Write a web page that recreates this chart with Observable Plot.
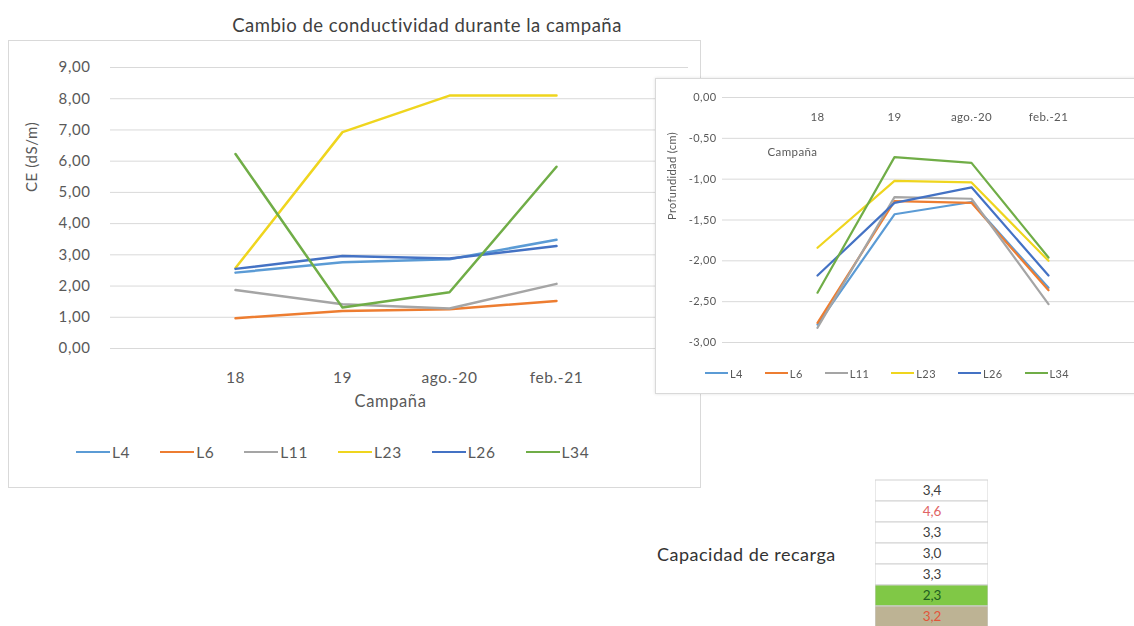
<!DOCTYPE html>
<html>
<head>
<meta charset="utf-8">
<script src="https://cdn.jsdelivr.net/npm/d3@7"></script>
<script src="https://cdn.jsdelivr.net/npm/@observablehq/plot@0.6"></script>
<style>
  body { margin: 0; width: 1134px; height: 626px; overflow: hidden; background: #fff; position: relative;
         font-family: Lato, "Open Sans", sans-serif; color: #595959; }
  .abs { position: absolute; }
  #title { left: 127px; width: 600px; top: 14px; text-align: center; font-size: 18.5px; letter-spacing: 0.5px; color: #404040; }
  #frameCE { left: 8px; top: 40px; width: 693px; height: 448px; box-sizing: border-box; border: 1px solid #d9d9d9; }
  #chartCE { left: 8px; top: 40px; }
  #chartCE svg text { letter-spacing: 0.6px; }
  #frameProf { left: 655px; top: 78px; width: 500px; height: 316px; box-sizing: border-box; background: #fff;
               border: 1px solid #d9d9d9; box-shadow: 0 0 3px rgba(0,0,0,0.12); }
  #chartProf { left: 655px; top: 78px; filter: blur(0.6px); }
  #chartProf svg text { letter-spacing: 0.4px; }
  .legend { display: flex; align-items: center; white-space: nowrap; }
  .legend .item { display: flex; align-items: center; }
  .legend .sw { display: inline-block; }
  #legendCE { left: 76px; top: 442px; height: 20px; font-size: 15.5px; letter-spacing: 0.6px; gap: 30px; }
  #legendCE .sw { width: 34px; height: 2.5px; margin-right: 2px; }
  #legendProf { left: 705px; top: 365px; height: 16px; font-size: 11px; letter-spacing: 0.4px; gap: 22px; filter: blur(0.6px); }
  #legendProf .sw { width: 23px; height: 1.8px; margin-right: 2px; }
  #recargaLabel { left: 657px; top: 543px; font-size: 18px; letter-spacing: 0.5px; color: #333; }
  #tabla { left: 875px; top: 477px; }
</style>
</head>
<body>
<div id="title" class="abs">Cambio de conductividad durante la campaña</div>
<div id="frameCE" class="abs"></div>
<div id="chartCE" class="abs"></div>
<div id="legendCE" class="abs legend"></div>
<div id="frameProf" class="abs"></div>
<div id="chartProf" class="abs"></div>
<div id="legendProf" class="abs legend"></div>
<div id="recargaLabel" class="abs">Capacidad de recarga</div>
<div id="tabla" class="abs"></div>
<script>
// Campaigns (x categories) and wells (series)
const campaigns = ["18", "19", "ago.-20", "feb.-21"];
const wells = ["L4", "L6", "L11", "L23", "L26", "L34"];

// Electrical conductivity CE (dS/m) per well and campaign
const ceL4  = [2.43, 2.76, 2.86, 3.48];
const ceL6  = [0.97, 1.20, 1.26, 1.52];
const ceL11 = [1.87, 1.42, 1.28, 2.07];
const ceL23 = [2.58, 6.93, 8.10, 8.10];
const ceL26 = [2.55, 2.96, 2.88, 3.28];
const ceL34 = [6.23, 1.31, 1.80, 5.82];

// Water table depth (cm) per well and campaign
const profL4  = [-2.78, -1.43, -1.28, -2.33];
const profL6  = [-2.76, -1.27, -1.29, -2.36];
const profL11 = [-2.82, -1.22, -1.24, -2.53];
const profL23 = [-1.84, -1.02, -1.04, -2.00];
const profL26 = [-2.18, -1.29, -1.10, -2.18];
const profL34 = [-2.39, -0.73, -0.80, -1.96];

// Recharge capacity values
const recarga = [3.4, 4.6, 3.3, 3.0, 3.3, 2.3, 3.2];

// Axis ticks
const ceTicks = [0, 1, 2, 3, 4, 5, 6, 7, 8, 9];
const profTicks = [0, -0.5, -1, -1.5, -2, -2.5, -3];

// Styling
const wellColors = ["#5B9BD5", "#ED7D31", "#A5A5A5", "#EFD51E", "#4472C4", "#70AD47"];
const rowFills = ["#fff", "#fff", "#fff", "#fff", "#fff", "#80C846", "#BDB394"];
const rowInk = ["#404040", "#E06464", "#404040", "#404040", "#404040", "#1F5E1F", "#E2553A"];
const font = "Lato, 'Open Sans', sans-serif";

const fmt2 = d => d.toFixed(2).replace(".", ",");
const fmt1 = d => d.toFixed(1).replace(".", ",");

function toRows(seriesList) {
  const rows = [];
  wells.forEach((w, k) => seriesList[k].forEach((v, i) => rows.push({well: w, campaign: campaigns[i], value: v})));
  return rows;
}
const ceRows = toRows([ceL4, ceL6, ceL11, ceL23, ceL26, ceL34]);
const profRows = toRows([profL4, profL6, profL11, profL23, profL26, profL34]);

// Conductivity chart
const ce = Plot.plot({
  width: 692, height: 390,
  marginTop: 27, marginBottom: 82, marginLeft: 102, marginRight: 12,
  style: {fontFamily: font, fontSize: "15px", color: "#595959", background: "transparent", overflow: "visible"},
  x: {type: "point", domain: campaigns, range: [172, 603]},
  y: {domain: [0, 9]},
  color: {domain: wells, range: wellColors},
  marks: [
    Plot.gridY(ceTicks, {stroke: "#d9d9d9", strokeOpacity: 1}),
    Plot.axisY(ceTicks, {tickSize: 0, tickPadding: 20, tickFormat: fmt2, label: null, fontSize: 15}),
    Plot.axisX({tickSize: 0, tickPadding: 23, label: null, fontSize: 15.5}),
    Plot.lineY(ceRows, {x: "campaign", y: "value", z: "well", stroke: "well", strokeWidth: 2.5}),
    Plot.text(["Campaña"], {text: d => d, frameAnchor: "bottom", dy: 58, dx: -9, fontSize: 16.5, fill: "#595959"}),
    Plot.text(["CE (dS/m)"], {text: d => d, frameAnchor: "left", dx: -78, dy: -16, rotate: -90, fontSize: 15, fill: "#595959"})
  ]
});
document.getElementById("chartCE").append(ce);

// Depth chart
const prof = Plot.plot({
  width: 479, height: 317,
  marginTop: 19, marginBottom: 53, marginLeft: 67, marginRight: 0,
  style: {fontFamily: font, fontSize: "11px", color: "#595959", background: "transparent", overflow: "visible"},
  x: {type: "point", domain: campaigns, range: [123, 432], axis: null},
  y: {domain: [-3, 0]},
  color: {domain: wells, range: wellColors},
  marks: [
    Plot.gridY(profTicks, {stroke: "#d9d9d9", strokeOpacity: 1}),
    Plot.axisY(profTicks, {tickSize: 0, tickPadding: 6, tickFormat: fmt2, label: null, fontSize: 11}),
    // category labels sit beside the axis line at zero
    Plot.text(campaigns, {x: d => d, y: () => 0, text: d => d, dy: 20, fontSize: 11.5, fill: "#595959"}),
    Plot.lineY(profRows, {x: "campaign", y: "value", z: "well", stroke: "well", strokeWidth: 2.2}),
    Plot.text(["Campaña"], {text: d => d, frameAnchor: "top-left", dx: 45, dy: 50, textAnchor: "start", fontSize: 11.5, fill: "#595959"}),
    Plot.text(["Profundidad (cm)"], {text: d => d, frameAnchor: "left", dx: -50, rotate: -90, fontSize: 11, fill: "#595959"})
  ]
});
document.getElementById("chartProf").append(prof);

// Legends
function legend(id) {
  const el = document.getElementById(id);
  wells.forEach((w, k) => {
    const item = document.createElement("div");
    item.className = "item";
    const sw = document.createElement("span");
    sw.className = "sw";
    sw.style.background = wellColors[k];
    item.append(sw, document.createTextNode(w));
    el.append(item);
  });
}
legend("legendCE");
legend("legendProf");

// Recharge capacity column
const tabla = Plot.plot({
  width: 113, height: 152, margin: 0,
  style: {fontFamily: font, fontSize: "13px", background: "transparent"},
  x: {axis: null},
  y: {type: "band", domain: d3.range(recarga.length), padding: 0, axis: null},
  color: {type: "identity"},
  marks: [
    Plot.cell(recarga, {y: (d, i) => i, fill: (d, i) => rowFills[i], stroke: "#d2d2d2", strokeWidth: 1}),
    Plot.text(recarga, {y: (d, i) => i, text: fmt1, fill: (d, i) => rowInk[i], fontSize: 13.5})
  ]
});
document.getElementById("tabla").append(tabla);
</script>
</body>
</html>
